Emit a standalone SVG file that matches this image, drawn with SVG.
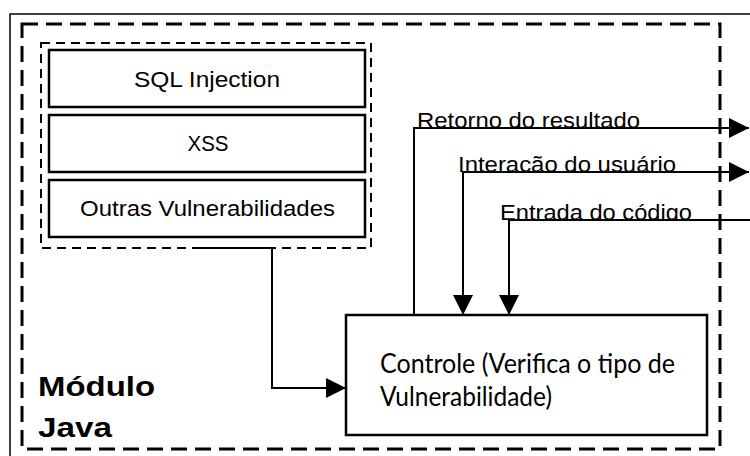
<svg xmlns="http://www.w3.org/2000/svg" width="750" height="456" viewBox="0 0 750 456">
  <style>
    .frame { fill: none; stroke: #000; stroke-width: 1.5; }
    .outer { fill: none; stroke: #000; stroke-width: 3; stroke-dasharray: 16 8; }
    .inner { fill: none; stroke: #000; stroke-width: 2; stroke-dasharray: 9 6; }
    .box { fill: #fff; stroke: #000; stroke-width: 2.5; }
    .conn { fill: none; stroke: #000; stroke-width: 2; }
    .t { font-family: "Liberation Sans", Arial, sans-serif; font-size: 22px; fill: #000; }
    .lbl { font-family: "Liberation Sans", Arial, sans-serif; font-size: 22px; fill: #000; }
    .ctl { font-family: Lato, "Open Sans", sans-serif; font-size: 26px; fill: #000; }
    .mod { font-family: "Liberation Sans", Arial, sans-serif; font-size: 27px; font-weight: bold; fill: #000; }
  </style>
  <defs>
    <marker id="arr" markerUnits="userSpaceOnUse" markerWidth="20" markerHeight="20" refX="20" refY="10" orient="auto-start-reverse">
      <path d="M0,0 L20,10 L0,20 z" fill="#000"/>
    </marker>
    <clipPath id="c1"><rect x="400" y="90" width="350" height="38"/></clipPath>
    <clipPath id="c2"><rect x="400" y="140" width="350" height="32"/></clipPath>
    <clipPath id="c3"><rect x="400" y="190" width="350" height="30"/></clipPath>
  </defs>
  <rect width="750" height="456" fill="#fff"/>
  <rect class="frame" x="10" y="14" width="760" height="460"/>
  <g id="modulo-java">
    <rect class="outer" x="22" y="24" width="698" height="425"/>
    <text class="mod" x="38" y="396" textLength="117" lengthAdjust="spacingAndGlyphs">Módulo</text>
    <text class="mod" x="38" y="437" textLength="74" lengthAdjust="spacingAndGlyphs">Java</text>
  </g>
  <g id="vulnerabilidades">
    <rect class="inner" x="41" y="43" width="330" height="205"/>
  </g>
  <g id="sql-injection">
    <rect class="box" x="49" y="50" width="316" height="57"/>
    <text class="t" x="207" y="87" text-anchor="middle" textLength="146" lengthAdjust="spacingAndGlyphs">SQL Injection</text>
  </g>
  <g id="xss">
    <rect class="box" x="49" y="115" width="316" height="57"/>
    <text class="t" x="208" y="151" text-anchor="middle" textLength="41" lengthAdjust="spacingAndGlyphs">XSS</text>
  </g>
  <g id="outras">
    <rect class="box" x="49" y="180" width="316" height="57"/>
    <text class="t" x="207.5" y="216" text-anchor="middle" textLength="255" lengthAdjust="spacingAndGlyphs">Outras Vulnerabilidades</text>
  </g>
  <g id="controle">
    <rect class="box" x="346" y="315" width="361" height="120"/>
    <text class="ctl" x="380" y="373" textLength="295" lengthAdjust="spacingAndGlyphs">Controle (Verifica o tipo de</text>
    <text class="ctl" x="380" y="406" textLength="172" lengthAdjust="spacingAndGlyphs">Vulnerabilidade)</text>
  </g>
  <g id="connectors">
    <path class="conn" d="M193,248 H272 V388 H346" marker-end="url(#arr)"/>
    <path class="conn" d="M414,315 V128 H749" marker-end="url(#arr)"/>
    <path class="conn" d="M463,315 V172 H749" marker-start="url(#arr)" marker-end="url(#arr)"/>
    <path class="conn" d="M750,220 H509 V315" marker-end="url(#arr)"/>
    <text class="lbl" x="417" y="128" clip-path="url(#c1)" textLength="223" lengthAdjust="spacingAndGlyphs">Retorno do resultado</text>
    <text class="lbl" x="458" y="172" clip-path="url(#c2)" textLength="218" lengthAdjust="spacingAndGlyphs">Interação do usuário</text>
    <text class="lbl" x="500" y="220" clip-path="url(#c3)" textLength="192" lengthAdjust="spacingAndGlyphs">Entrada do código</text>
  </g>
</svg>
